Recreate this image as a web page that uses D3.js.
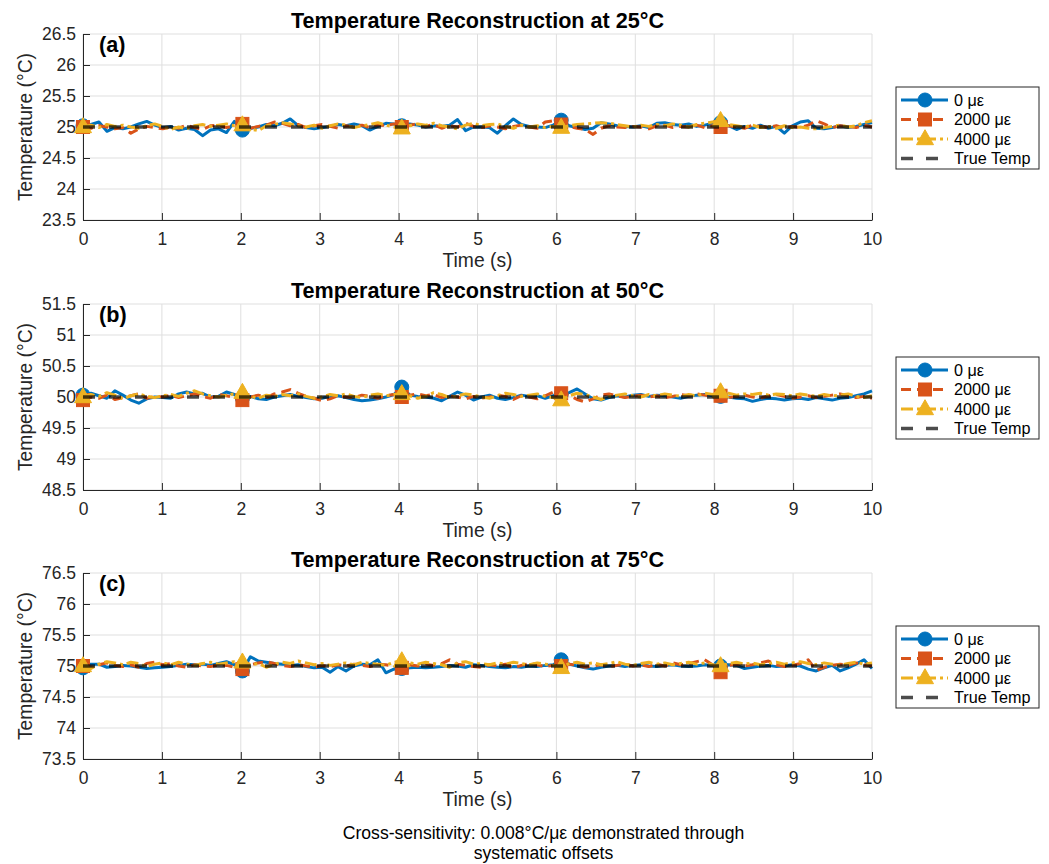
<!DOCTYPE html>
<html>
<head>
<meta charset="utf-8">
<script src="https://cdn.jsdelivr.net/npm/d3@7"></script>
<style>
  html, body { margin: 0; padding: 0; background: #fff; }
  svg { display: block; font-family: "Liberation Sans", Arial, Helvetica, sans-serif; }
</style>
</head>
<body>
<svg id="chart" width="1049" height="864"></svg>
<script>
// ---- data ----
const nominalTemps = [25, 50, 75];
const panelLetters = ["(a)", "(b)", "(c)"];
const strainLabels = ["0 με", "2000 με", "4000 με", "True Temp"];
const xTicks = [0, 1, 2, 3, 4, 5, 6, 7, 8, 9, 10];
const yTicks25 = [23.5, 24, 24.5, 25, 25.5, 26, 26.5];
const yTicks50 = [48.5, 49, 49.5, 50, 50.5, 51, 51.5];
const yTicks75 = [73.5, 74, 74.5, 75, 75.5, 76, 76.5];
const markerIndices = [0, 20, 40, 60, 80];

// 100 samples over 0–10 s
const time = d3.range(100).map(i => i * 10 / 99);

const t25_0 = [25.02,25.04,25.08,24.93,24.99,24.97,25.00,25.05,25.09,25.03,24.99,25.01,24.95,24.98,24.96,24.86,24.95,24.97,24.91,25.09,
  24.95,24.98,25.00,25.04,25.02,25.06,25.13,25.02,24.99,24.97,24.99,25.01,25.04,25.02,25.05,25.02,24.95,25.01,25.06,25.05,
  25.02,25.05,25.03,25.00,25.02,25.01,25.03,25.12,24.94,25.00,25.00,24.99,24.90,25.02,25.13,25.04,25.01,25.00,24.99,25.03,
  25.11,25.02,24.99,24.96,24.98,25.07,25.05,25.02,25.01,25.00,25.02,24.99,25.06,25.07,25.04,25.03,25.05,25.01,25.03,25.06,
  25.07,25.02,24.96,25.01,24.98,25.03,24.98,25.01,24.90,25.02,25.08,25.10,24.98,24.97,24.99,25.02,24.99,25.01,25.04,25.07];
const t25_2000 = [25.00,24.98,25.02,25.00,24.97,24.99,24.90,24.97,25.01,24.99,24.97,25.00,24.98,25.03,24.99,24.96,25.02,25.03,24.99,25.02,
  25.05,24.98,25.01,25.03,25.08,25.06,25.02,25.04,24.99,25.02,25.04,25.01,24.98,25.02,25.00,25.03,24.99,25.04,25.02,25.05,
  25.00,25.03,25.05,25.01,25.04,24.98,25.02,25.00,25.06,25.01,24.99,25.02,25.00,24.97,25.01,25.03,25.00,24.98,25.08,25.10,
  25.04,25.01,24.98,24.96,24.88,24.98,25.02,25.00,24.99,25.01,25.00,24.97,25.02,25.03,24.99,25.01,25.00,25.03,24.99,25.02,
  25.00,25.02,25.00,24.98,25.03,25.01,24.99,25.02,24.98,25.01,24.99,25.03,25.10,25.05,24.99,25.02,25.01,24.99,25.03,25.00];
const t25_4000 = [25.00,25.03,24.99,25.04,25.01,25.03,25.00,24.98,25.02,25.05,25.01,24.96,25.00,24.97,25.02,25.04,25.01,25.03,25.05,25.02,
  25.03,24.97,24.94,25.02,25.04,25.07,25.05,25.02,25.00,25.03,24.98,25.02,25.05,25.03,24.99,25.02,25.04,25.07,25.03,25.00,
  24.98,25.02,25.05,25.03,25.06,25.02,25.00,24.97,25.03,25.06,25.02,25.04,25.05,25.01,24.98,25.03,25.00,25.02,24.99,25.01,
  24.99,25.02,25.04,25.05,25.06,25.07,25.06,25.04,25.02,25.00,25.03,25.01,25.04,25.02,25.05,25.03,25.00,25.04,25.06,25.08,
  25.10,25.04,25.02,25.00,25.03,24.99,25.01,24.98,25.02,24.99,25.00,24.98,24.97,24.99,25.01,25.03,25.00,25.02,25.07,25.10];

const t50_0 = [50.03,50.06,50.02,49.98,50.10,50.03,49.95,49.90,49.97,50.00,49.99,49.98,50.05,50.08,50.05,50.06,50.00,50.01,50.08,50.04,
  49.98,50.01,49.97,49.96,50.00,50.02,50.04,50.01,49.99,49.97,49.98,50.01,50.02,49.99,49.96,49.94,49.95,49.97,50.00,50.04,
  50.16,50.03,50.01,50.00,49.98,49.94,50.01,50.08,50.03,49.95,50.00,50.03,49.98,49.96,49.99,50.03,50.01,50.02,49.98,50.02,
  50.04,50.07,50.13,50.05,49.97,49.95,49.99,50.02,50.00,50.03,50.04,50.01,50.03,50.02,50.00,49.98,50.01,50.03,50.04,50.02,
  50.01,50.00,49.98,49.97,49.93,49.96,49.98,49.97,49.95,49.97,49.98,49.96,49.99,49.97,49.95,49.98,49.99,50.02,50.05,50.10];
const t50_2000 = [49.95,50.00,49.98,50.03,49.96,49.99,50.02,50.05,49.98,50.01,50.00,50.03,49.99,50.02,50.05,50.01,49.98,50.04,50.02,49.99,
  49.95,50.00,50.03,49.99,50.05,50.08,50.12,50.06,50.01,49.98,49.94,49.97,50.02,50.00,49.99,50.03,50.01,49.98,50.02,50.04,
  50.00,50.03,50.05,50.02,50.04,49.99,50.02,50.00,49.97,50.01,49.98,50.00,50.03,50.01,49.96,50.02,50.00,49.97,50.02,50.08,
  50.06,50.03,49.96,49.92,49.97,50.03,50.05,50.02,49.99,50.01,50.03,50.00,50.02,49.99,50.01,50.04,50.02,50.05,50.03,50.01,
  50.02,49.99,50.01,50.03,50.00,49.98,50.02,50.04,50.01,49.98,50.00,50.02,49.99,50.01,50.03,50.05,50.02,49.99,50.01,49.98];
const t50_4000 = [50.00,50.04,50.01,50.07,50.03,49.97,50.02,50.05,50.01,49.99,50.02,50.04,50.01,50.06,50.10,50.05,50.02,50.00,50.03,50.05,
  50.07,50.01,49.98,50.03,50.01,50.04,50.02,50.05,50.01,49.98,50.00,50.04,50.02,50.05,50.01,49.99,50.03,50.05,50.02,50.04,
  50.05,50.02,49.98,50.01,50.07,50.04,49.99,50.02,50.05,50.03,50.00,49.98,50.02,50.06,50.04,50.01,50.03,50.05,50.01,49.99,
  49.95,50.02,50.06,50.04,50.00,49.96,50.01,50.03,50.05,50.02,50.00,50.04,50.02,50.05,50.03,50.01,50.04,50.02,50.06,50.04,
  50.08,50.06,50.03,50.05,50.04,50.06,50.03,50.05,50.04,50.02,50.05,50.03,50.01,50.04,50.02,50.03,50.05,50.01,49.99,50.02];

const t75_0 = [74.97,75.03,75.03,74.98,74.99,75.01,75.00,74.98,74.96,74.97,74.98,74.99,75.01,75.03,75.02,75.03,75.01,75.04,75.07,75.02,
  74.92,75.15,75.08,75.06,75.04,75.03,75.01,75.02,74.99,74.97,74.98,74.90,74.99,74.92,75.00,75.03,75.02,75.10,74.89,74.95,
  74.96,74.97,74.98,74.97,74.98,74.99,75.01,75.00,74.98,75.02,75.01,74.99,74.98,74.97,74.99,74.98,75.00,74.99,75.01,75.02,
  75.10,75.03,75.00,74.97,74.95,74.98,75.00,75.01,74.99,75.01,75.02,75.00,74.99,75.01,75.02,75.00,74.99,75.00,75.02,75.01,
  75.00,75.02,75.01,74.96,74.98,75.00,75.01,74.99,75.00,75.02,75.00,74.95,74.92,74.97,75.01,74.92,74.97,75.03,75.10,74.96];
const t75_2000 = [75.00,74.98,75.02,75.05,75.01,74.99,75.02,74.98,75.04,75.06,75.02,75.04,75.00,74.98,75.02,75.00,74.99,75.02,75.01,74.98,
  74.95,75.02,75.05,75.07,75.04,75.01,74.99,75.02,75.00,74.98,75.01,74.99,75.02,75.00,75.03,75.01,74.99,75.03,75.02,75.00,
  74.97,75.02,75.00,75.03,75.01,75.04,75.10,75.03,75.01,74.99,74.98,75.02,75.00,75.03,74.97,75.01,75.04,75.02,74.99,75.01,
  75.00,75.03,75.01,74.98,75.00,75.02,74.99,75.01,75.03,75.00,75.02,74.99,75.03,75.00,75.05,75.02,75.04,75.07,75.10,75.02,
  74.90,75.01,75.03,75.00,75.02,75.05,75.08,75.02,74.99,75.01,75.04,75.10,74.93,74.98,75.01,75.03,75.01,75.05,75.02,75.00];
const t75_4000 = [75.00,74.96,75.03,75.07,75.05,75.02,75.06,75.04,74.99,75.03,75.05,75.02,75.06,75.03,75.01,75.04,75.06,75.03,75.05,75.07,
  75.06,75.02,75.04,74.98,75.03,75.06,75.04,75.08,75.05,75.02,75.04,75.01,75.03,75.05,75.02,75.06,75.04,75.03,75.01,75.06,
  75.08,75.05,75.03,75.06,75.04,75.02,74.98,75.05,75.07,75.03,75.04,75.02,75.05,75.03,75.06,75.04,75.02,75.05,75.03,75.01,
  74.97,75.04,75.06,75.03,75.05,75.02,75.04,75.07,75.03,75.01,75.04,75.06,75.03,75.05,75.02,75.04,75.06,75.03,75.05,75.02,
  75.00,75.04,75.06,75.03,75.05,75.02,75.04,75.06,75.03,75.05,75.07,75.04,75.02,75.05,75.03,75.01,75.04,75.06,75.03,75.05];

// ---- panel definitions ----
const panels = [
  { nominal: nominalTemps[0], letter: panelLetters[0], yTicks: yTicks25, series: [t25_0, t25_2000, t25_4000] },
  { nominal: nominalTemps[1], letter: panelLetters[1], yTicks: yTicks50, series: [t50_0, t50_2000, t50_4000] },
  { nominal: nominalTemps[2], letter: panelLetters[2], yTicks: yTicks75, series: [t75_0, t75_2000, t75_4000] }
];

const styles = [
  { color: "#0072BD", dash: null,          marker: "circle" },
  { color: "#D95319", dash: "10,6",        marker: "square" },
  { color: "#EDB120", dash: "12,4,3,4",    marker: "triangle" }
];
const trueStyle = { color: "#000", opacity: 0.7, dash: "12,14" };

const svg = d3.select("#chart");
svg.append("rect").attr("width", 1049).attr("height", 864).attr("fill", "#fff");

const axLeft = 83, axRight = 872, axHeight = 186;
const axTops = [34, 304, 573];
const axMid = (axLeft + axRight) / 2;

const x = d3.scaleLinear().domain([0, 10]).range([axLeft, axRight]);

function drawMarker(g, type, cx, cy, color) {
  if (type === "circle") {
    g.append("circle").attr("cx", cx).attr("cy", cy).attr("r", 7).attr("fill", color).attr("stroke", color);
  } else if (type === "square") {
    g.append("rect").attr("x", cx - 6.5).attr("y", cy - 6.5).attr("width", 13).attr("height", 13)
      .attr("fill", color).attr("stroke", color);
  } else {
    const h = 15, w = 17;
    g.append("path")
      .attr("d", `M${cx},${cy - h * 0.62}L${cx + w / 2},${cy + h * 0.38}L${cx - w / 2},${cy + h * 0.38}Z`)
      .attr("fill", color).attr("stroke", color);
  }
}

panels.forEach((p, k) => {
  const top = axTops[k], bottom = top + axHeight;
  const y = d3.scaleLinear().domain([p.nominal - 1.5, p.nominal + 1.5]).range([bottom, top]);
  const g = svg.append("g");

  // grid
  g.append("g").selectAll("line").data(xTicks).join("line")
    .attr("x1", d => x(d)).attr("x2", d => x(d)).attr("y1", top).attr("y2", bottom)
    .attr("stroke", "#dfdfdf").attr("stroke-width", 1);
  g.append("g").selectAll("line").data(p.yTicks).join("line")
    .attr("x1", axLeft).attr("x2", axRight).attr("y1", d => y(d)).attr("y2", d => y(d))
    .attr("stroke", "#dfdfdf").attr("stroke-width", 1);

  // axes
  const xa = g.append("g").attr("transform", `translate(0,${bottom})`)
    .call(d3.axisBottom(x).tickValues(xTicks).tickFormat(d3.format("d")).tickSizeInner(-7).tickSizeOuter(0).tickPadding(13));
  const ya = g.append("g").attr("transform", `translate(${axLeft},0)`)
    .call(d3.axisLeft(y).tickValues(p.yTicks).tickFormat(d => String(d)).tickSizeInner(-7).tickSizeOuter(0).tickPadding(7));
  [xa, ya].forEach(a => {
    a.select(".domain").attr("stroke", "#262626").attr("stroke-width", 1);
    a.selectAll(".tick line").attr("stroke", "#262626");
    a.selectAll(".tick text").attr("fill", "#262626").style("font-size", "17.5px")
      .style("font-family", "'Liberation Sans', Arial, sans-serif");
  });

  // series lines with markers
  const line = d3.line().x((d, i) => x(time[i])).y(d => y(d));
  p.series.forEach((vals, s) => {
    const st = styles[s];
    g.append("path").datum(vals).attr("d", line)
      .attr("fill", "none").attr("stroke", st.color).attr("stroke-width", 3)
      .attr("stroke-linejoin", "round")
      .attr("stroke-dasharray", st.dash);
    const mg = g.append("g");
    markerIndices.forEach(i => drawMarker(mg, st.marker, x(time[i]), y(vals[i]), st.color));
  });

  // true temperature reference
  g.append("line")
    .attr("x1", x(0)).attr("x2", x(10)).attr("y1", y(p.nominal)).attr("y2", y(p.nominal))
    .attr("stroke", trueStyle.color).attr("stroke-opacity", trueStyle.opacity)
    .attr("stroke-width", 3.5).attr("stroke-dasharray", trueStyle.dash);

  // title, panel letter, labels
  svg.append("text").attr("x", axMid).attr("y", top - 6)
    .attr("text-anchor", "middle").style("font-size", "21.6px").style("font-weight", "bold")
    .attr("fill", "#000").text(`Temperature Reconstruction at ${p.nominal}°C`);
  svg.append("text").attr("x", 99).attr("y", top + 18)
    .style("font-size", "21.6px").style("font-weight", "bold").attr("fill", "#000").text(p.letter);
  svg.append("text").attr("x", axMid).attr("y", bottom + 47)
    .attr("text-anchor", "middle").style("font-size", "19.3px").attr("fill", "#262626").text("Time (s)");
  svg.append("text").attr("transform", `translate(32,${(top + bottom) / 2}) rotate(-90)`)
    .attr("text-anchor", "middle").style("font-size", "19.3px").attr("fill", "#262626").text("Temperature (°C)");

  // legend
  const lgTop = (top + bottom) / 2 - 40;
  const lg = svg.append("g").attr("transform", `translate(896,${lgTop})`);
  lg.append("rect").attr("x", 0).attr("y", 0).attr("width", 143).attr("height", 82)
    .attr("fill", "#fff").attr("stroke", "#262626").attr("stroke-width", 1);
  const rowY = [13, 32.5, 52, 71.5];
  strainLabels.forEach((lab, r) => {
    const cy = rowY[r];
    if (r < 3) {
      const st = styles[r];
      lg.append("line").attr("x1", 5).attr("x2", 52).attr("y1", cy).attr("y2", cy)
        .attr("stroke", st.color).attr("stroke-width", 3).attr("stroke-dasharray", st.dash);
      drawMarker(lg, st.marker, 29, cy, st.color);
    } else {
      lg.append("line").attr("x1", 5).attr("x2", 52).attr("y1", cy).attr("y2", cy)
        .attr("stroke", trueStyle.color).attr("stroke-opacity", trueStyle.opacity)
        .attr("stroke-width", 3.5).attr("stroke-dasharray", "12,13");
    }
    lg.append("text").attr("x", 58).attr("y", cy + 5.5).style("font-size", "16.2px")
      .attr("fill", "#000").text(lab);
  });
});

// caption
const caption = ["Cross-sensitivity: 0.008°C/με demonstrated through", "systematic offsets"];
svg.append("g").selectAll("text").data(caption).join("text")
  .attr("x", 543.5).attr("y", (d, i) => 839 + i * 20)
  .attr("text-anchor", "middle").style("font-size", "17.6px").attr("fill", "#000").text(d => d);
</script>
</body>
</html>
